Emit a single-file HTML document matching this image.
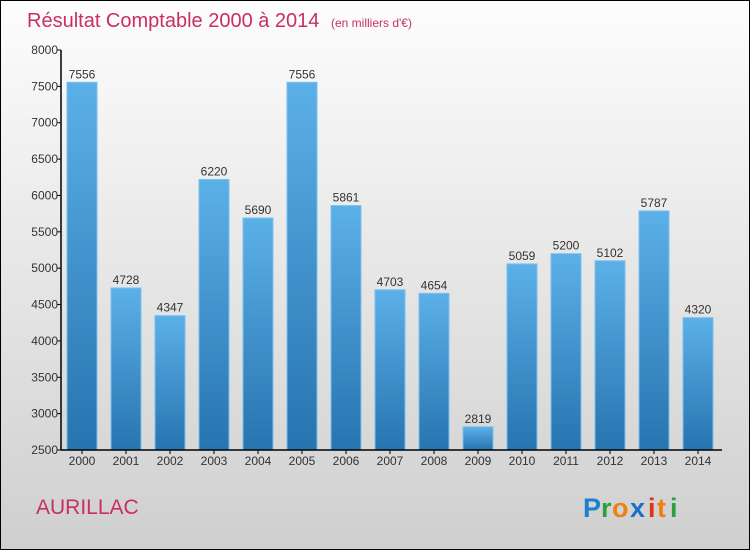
<!DOCTYPE html>
<html><head><meta charset="utf-8"><style>
html,body{margin:0;padding:0}
body{width:750px;height:550px;overflow:hidden;font-family:"Liberation Sans",sans-serif}
</style></head><body>
<svg id="chart" width="750" height="550" xmlns="http://www.w3.org/2000/svg">
<defs>
<linearGradient id="bg" x1="0" y1="0" x2="0" y2="1"><stop offset="0" stop-color="#fdfdfd"/><stop offset="1" stop-color="#cfcfcf"/></linearGradient>
<linearGradient id="bar" x1="0" y1="0" x2="0" y2="1"><stop offset="0" stop-color="#5cb0e8"/><stop offset="1" stop-color="#2674b0"/></linearGradient>
</defs>
<rect x="0.5" y="0.5" width="749" height="549" fill="url(#bg)" stroke="#000"/>
<text x="27" y="27" font-size="20" fill="#c8305e">Résultat Comptable 2000 à 2014 <tspan font-size="12" dx="6">(en milliers d'€)</tspan></text>
<text x="36" y="514" font-size="21" fill="#c8305e">AURILLAC</text>
<g font-size="27" font-weight="bold">
<text x="583" y="517" fill="#1e7fd0">P</text><text x="601" y="517" fill="#2aa040">r</text><text x="612" y="517" fill="#f08010">o</text><text x="630" y="517" fill="#1e6fc8">x</text><text x="648" y="517" fill="#e03020">i</text><text x="657" y="517" fill="#f08010">t</text><text x="670" y="517" fill="#2aa040">i</text>
</g>
<g id="plot"></g>
</svg>
<script>
const categories=['2000','2001','2002','2003','2004','2005','2006','2007','2008','2009','2010','2011','2012','2013','2014'];
const values=[7556,4728,4347,6220,5690,7556,5861,4703,4654,2819,5059,5200,5102,5787,4320];
const yTicks=[2500,3000,3500,4000,4500,5000,5500,6000,6500,7000,7500,8000];
const yMin=2500,yMax=8000,plotTop=50,plotBottom=450,axisX=61;
const y=v=>plotBottom-(v-yMin)/(yMax-yMin)*(plotBottom-plotTop);
const xc=i=>82+44*i;
const NS='http://www.w3.org/2000/svg',g=document.getElementById('plot');
function mk(t,a){const e=document.createElementNS(NS,t);for(const k in a)e.setAttribute(k,a[k]);g.appendChild(e);return e;}
values.forEach((v,i)=>{
 const r=mk('rect',{x:xc(i)-15,y:y(v),width:30,height:plotBottom-y(v),fill:'url(#bar)',stroke:'#7cc0ee','stroke-width':1});
 
 
 const t=mk('text',{x:xc(i),y:y(v)-4,'text-anchor':'middle','font-size':12,fill:'#333'});
 t.textContent=v;
 
 
 const xl=mk('text',{x:xc(i),y:465,'text-anchor':'middle','font-size':12,fill:'#333'});
 xl.textContent=categories[i];
 
 
 const tk=mk('line',{x1:xc(i),x2:xc(i),y1:plotBottom,y2:plotBottom+4,stroke:'#000'});
 
 
});
yTicks.forEach(v=>{
 const l=mk('line',{x1:axisX-4,x2:axisX,y1:y(v),y2:y(v),stroke:'#000'});
 
 
 const t=mk('text',{x:axisX-3,y:y(v)+4,'text-anchor':'end','font-size':12,fill:'#333'});
 t.textContent=v;
 
 
});
const ya=mk('line',{x1:axisX,x2:axisX,y1:plotTop,y2:plotBottom,stroke:'#000','stroke-width':1.5});


const xa=mk('line',{x1:axisX,x2:722,y1:plotBottom,y2:plotBottom,stroke:'#000','stroke-width':1.5});


</script>
</body></html>
